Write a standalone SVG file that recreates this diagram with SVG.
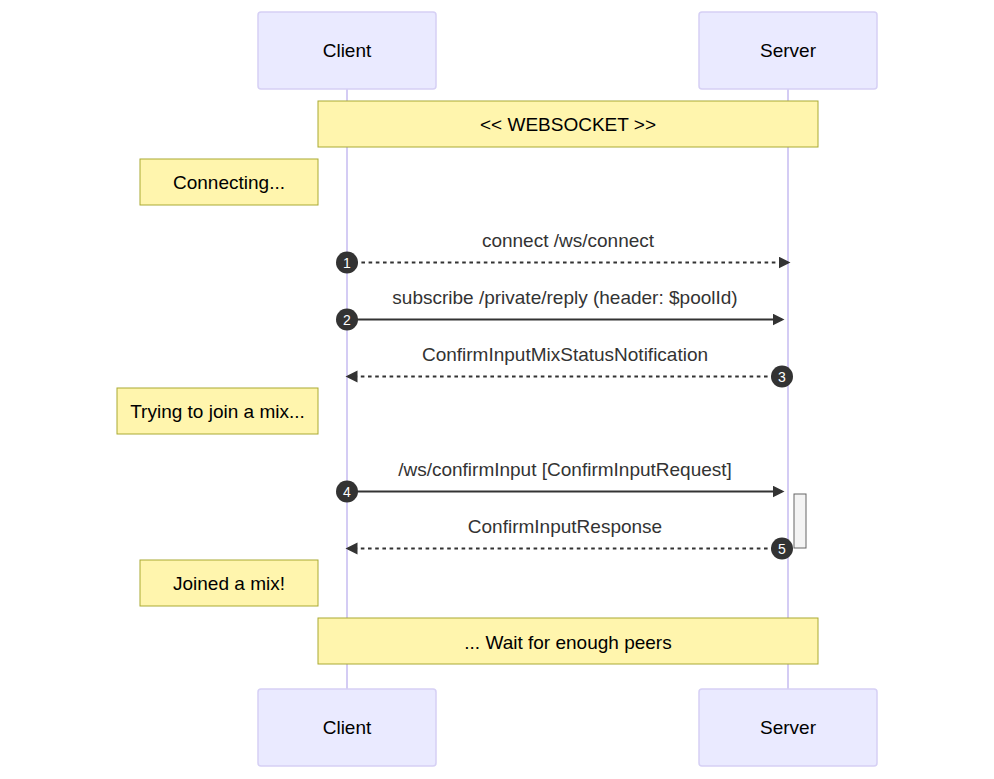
<svg xmlns="http://www.w3.org/2000/svg" width="994" height="779" viewBox="0 0 994 779">
<style>
.actor{fill:#eaeaff;stroke:#d6d0f5;stroke-width:1.5}
.life{stroke:#d4ccf4;stroke-width:2}
.note{fill:#fff5ad;stroke:#aaaa33;stroke-width:1}
.t{font-family:"Liberation Sans",Arial,sans-serif;font-size:19px;text-anchor:middle;dominant-baseline:central;fill:#000}
.mt{font-family:"Liberation Sans",Arial,sans-serif;font-size:19px;text-anchor:middle;dominant-baseline:central;fill:#333}
.msg{stroke:#333;stroke-width:1.8;fill:none}
.dot{stroke-dasharray:3.6,3.6}
.num{fill:#333}
.nt{font-family:"Liberation Sans",Arial,sans-serif;font-size:14px;text-anchor:middle;dominant-baseline:central;fill:#fff}
.act{fill:#f4f4f4;stroke:#666;stroke-width:1}
</style>
<defs>
<marker id="arrow" markerUnits="userSpaceOnUse" markerWidth="14" markerHeight="14" refX="9.5" refY="6" orient="auto">
<path d="M0,0 L12,6 L0,12 z" fill="#333"/>
</marker>
</defs>
<g id="lifelines">
<line class="life" x1="347" y1="89" x2="347" y2="689"/>
<line class="life" x1="788" y1="89" x2="788" y2="689"/>
</g>
<g id="client-top"><rect class="actor" x="258" y="12" width="178" height="77" rx="3"/><text class="t" x="347" y="50.5">Client</text></g>
<g id="server-top"><rect class="actor" x="699" y="12" width="178" height="77" rx="3"/><text class="t" x="788" y="50.5">Server</text></g>
<g id="client-bottom"><rect class="actor" x="258" y="689" width="178" height="77" rx="3"/><text class="t" x="347" y="727.5">Client</text></g>
<g id="server-bottom"><rect class="actor" x="699" y="689" width="178" height="77" rx="3"/><text class="t" x="788" y="727.5">Server</text></g>
<g id="note-websocket"><rect class="note" x="318" y="101" width="500" height="46"/><text class="t" x="568" y="124.5">&lt;&lt; WEBSOCKET &gt;&gt;</text></g>
<g id="note-connecting"><rect class="note" x="140" y="159" width="178" height="46"/><text class="t" x="229" y="182.5">Connecting...</text></g>
<g id="note-trying"><rect class="note" x="117" y="388" width="201" height="46"/><text class="t" x="217.5" y="411.5">Trying to join a mix...</text></g>
<g id="activation"><rect class="act" x="794" y="494" width="12" height="54"/></g>
<g id="note-joined"><rect class="note" x="140" y="560" width="178" height="46"/><text class="t" x="229" y="583.5">Joined a mix!</text></g>
<g id="note-wait"><rect class="note" x="318" y="618" width="500" height="46"/><text class="t" x="568" y="642">... Wait for enough peers</text></g>
<g id="connectors">
<line class="msg dot" x1="347" y1="262.5" x2="788" y2="262.5" marker-end="url(#arrow)"/>
<line class="msg" x1="347" y1="319.5" x2="782" y2="319.5" marker-end="url(#arrow)"/>
<line class="msg dot" x1="782" y1="376.5" x2="348" y2="376.5" marker-end="url(#arrow)"/>
<line class="msg" x1="347" y1="491.5" x2="782" y2="491.5" marker-end="url(#arrow)"/>
<line class="msg dot" x1="782" y1="548.5" x2="348" y2="548.5" marker-end="url(#arrow)"/>
</g>
<g id="labels">
<text class="mt" x="568" y="240.5">connect /ws/connect</text>
<text class="mt" x="565" y="297.5">subscribe /private/reply (header: $poolId)</text>
<text class="mt" x="565" y="354.5">ConfirmInputMixStatusNotification</text>
<text class="mt" x="565" y="469.5">/ws/confirmInput [ConfirmInputRequest]</text>
<text class="mt" x="565" y="526.5">ConfirmInputResponse</text>
</g>
<g id="sequence-numbers">
<circle class="num" cx="347" cy="262.5" r="11"/><text class="nt" x="347" y="262.5">1</text>
<circle class="num" cx="347" cy="319.5" r="11"/><text class="nt" x="347" y="319.5">2</text>
<circle class="num" cx="782" cy="376.5" r="11"/><text class="nt" x="782" y="376.5">3</text>
<circle class="num" cx="347" cy="491.5" r="11"/><text class="nt" x="347" y="491.5">4</text>
<circle class="num" cx="782" cy="548.5" r="11"/><text class="nt" x="782" y="548.5">5</text>
</g>
</svg>
